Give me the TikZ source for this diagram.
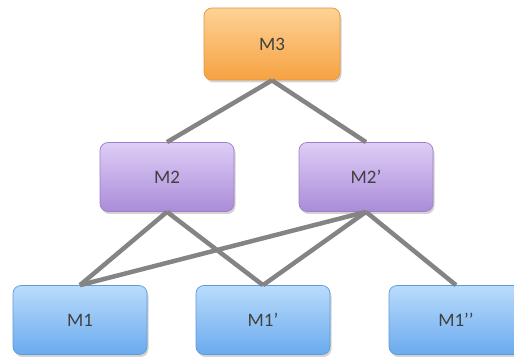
\documentclass[tikz,border=0pt]{standalone}
\usepackage{fontspec}
\setmainfont{Carlito}
\usetikzlibrary{shadows}
\definecolor{txt}{RGB}{64,64,64}
\definecolor{ln}{RGB}{132,132,132}
\definecolor{orT}{RGB}{254,210,150}
\definecolor{orB}{RGB}{246,162,66}
\definecolor{orD}{RGB}{230,150,62}
\definecolor{puT}{RGB}{222,205,246}
\definecolor{puB}{RGB}{170,140,216}
\definecolor{puD}{RGB}{156,128,202}
\definecolor{blT}{RGB}{186,220,252}
\definecolor{blB}{RGB}{106,170,238}
\definecolor{blD}{RGB}{94,154,218}
\tikzset{
  box/.style={rectangle, rounded corners=8pt, minimum width=134pt, minimum height=69pt,
    font=\fontsize{19}{21}\selectfont, text=txt, line width=0.7pt,
    drop shadow={shadow xshift=1.5pt, shadow yshift=-2.5pt, opacity=0.35}},
  orbox/.style={box, draw=orD, top color=orT, bottom color=orB},
  pubox/.style={box, draw=puD, top color=puT, bottom color=puB},
  blbox/.style={box, draw=blD, top color=blT, bottom color=blB},
  conn/.style={draw=ln, line width=4.5pt}
}
\begin{document}
\begin{tikzpicture}[x=1pt,y=1pt]
\useasboundingbox (0,0) rectangle (514,361);
\node[orbox, minimum width=136pt, minimum height=72pt] (m3) at (272,317) {M3};
\node[pubox] (m2) at (167,184) {M2};
\node[pubox] (m2p) at (366,184) {M2’};
\node[blbox] (m1) at (80,41) {M1};
\node[blbox] (m1p) at (263,41) {M1’};
\node[blbox] (m1pp) at (456,41) {M1’’};
\path[conn] (m3.south) -- (m2.north);
\path[conn] (m3.south) -- (m2p.north);
\path[conn] (m2.south) -- (m1.north);
\path[conn] (m2.south) -- (m1p.north);
\path[conn] (m2p.south) -- (m1.north);
\path[conn] (m2p.south) -- (m1p.north);
\path[conn] (m2p.south) -- (m1pp.north);
\end{tikzpicture}
\end{document}
